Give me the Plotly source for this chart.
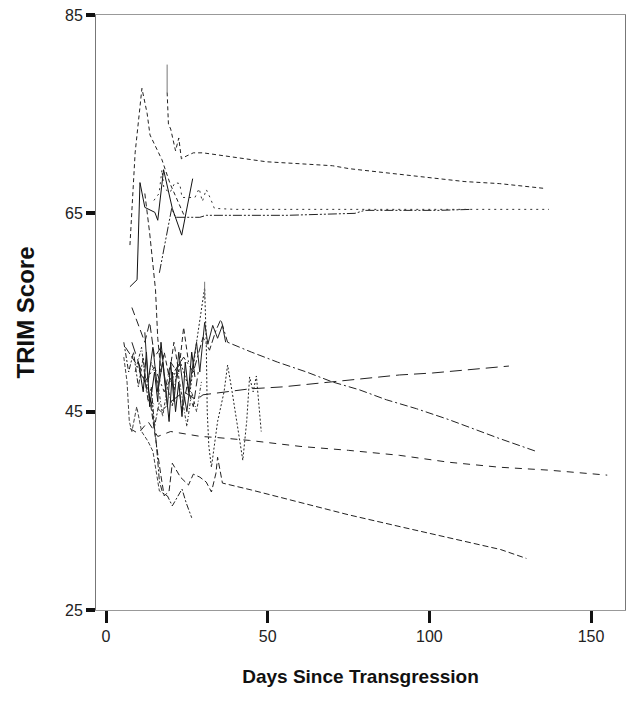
import plotly.graph_objects as go

# ---- data: one (days, TRIM score) pair of lists per participant trajectory ----
days_01 = [7.4, 9.0, 11.1, 12.7, 13.6, 15.7, 17.3, 19.8, 22.5, 24.4]
trim_01 = [61.8, 71.1, 77.6, 75.1, 72.9, 71.4, 70.4, 68.0, 66.0, 64.6]

days_02a = [18.9, 18.9]
trim_02a = [80.0, 77.2]
days_02 = [18.9, 19.3, 20.0, 21.5, 22.5, 23.3, 25.0, 27.0, 30.0, 36.7, 43.5, 49.6, 60.0, 70.0, 75.3, 83.6, 90.7, 103.0, 111.0, 121.6, 136.0]
trim_02 = [77.2, 74.0, 73.5, 71.3, 72.6, 70.5, 70.8, 71.1, 71.1, 70.8, 70.5, 70.2, 70.0, 69.8, 69.5, 69.2, 69.0, 68.5, 68.2, 68.0, 67.5]

days_03 = [16.5, 18.0, 20.3, 21.5, 29.0, 31.0, 56.0, 77.0, 80.0, 103.0, 113.0]
trim_03 = [59.0, 61.5, 65.5, 64.6, 64.6, 64.8, 64.8, 65.0, 65.3, 65.3, 65.4]

days_04 = [14.8, 16.4, 17.3, 17.9, 19.8, 21.3, 22.8, 23.5, 27.5, 28.8, 29.8, 31.0, 32.3, 33.5, 40.0, 80.0, 137.0]
trim_04 = [66.3, 67.0, 69.4, 67.5, 67.1, 68.1, 68.0, 66.6, 66.6, 67.5, 66.2, 67.4, 66.5, 65.5, 65.4, 65.4, 65.4]

days_05 = [7.4, 9.6, 10.5, 12.0, 15.1, 16.0, 17.8, 20.5, 23.4, 26.8]
trim_05 = [57.6, 58.3, 68.1, 65.6, 65.1, 64.3, 69.4, 65.5, 62.8, 68.5]

days_06 = [6.0, 9.0, 12.0, 15.0, 18.0, 21.0, 24.0, 27.0, 30.0, 32.0, 34.0, 35.5, 37.6, 45.0, 53.0, 62.0, 70.0, 78.4, 86.7, 90.7, 96.0, 106.0, 121.6, 133.0]
trim_06 = [51.5, 50.0, 48.0, 49.5, 47.0, 49.0, 50.5, 49.0, 52.5, 51.2, 53.2, 54.3, 52.0, 51.0, 50.0, 49.0, 48.0, 47.2, 46.2, 45.8, 45.3, 44.2, 42.3, 41.0]

days_07 = [8.0, 11.0, 14.0, 17.0, 20.0, 24.0, 28.0, 30.0, 38.9, 44.4, 54.6, 70.0, 80.5, 90.7, 101.0, 111.0, 124.6]
trim_07 = [52.0, 49.0, 46.0, 45.0, 46.0, 47.0, 46.2, 46.7, 47.1, 47.3, 47.5, 48.0, 48.4, 48.7, 48.9, 49.2, 49.6]

days_08 = [7.4, 10.0, 13.0, 16.0, 20.0, 24.0, 29.3, 34.0, 44.4, 60.0, 75.0, 90.7, 106.0, 121.6, 137.0, 155.0]
trim_08 = [43.3, 42.8, 44.0, 42.5, 43.0, 42.8, 42.5, 42.4, 42.1, 41.5, 41.1, 40.6, 39.9, 39.4, 39.1, 38.6]

days_09 = [13.0, 14.5, 16.0, 17.0, 18.0, 19.5, 20.5, 23.0, 25.5, 27.0, 29.0, 31.0, 32.6, 34.0, 34.5, 36.0, 45.0, 56.0, 60.0, 75.0, 91.0, 106.0, 122.0, 130.0]
trim_09 = [47.5, 44.0, 41.0, 38.5, 36.5, 37.0, 39.8, 38.4, 37.6, 38.7, 38.4, 37.9, 36.9, 38.8, 40.4, 37.8, 37.1, 36.2, 35.8, 34.6, 33.4, 32.3, 31.1, 30.2]

days_10 = [14.0, 15.5, 16.5, 17.5, 19.0, 20.5, 23.5, 24.8, 26.5]
trim_10 = [46.0, 42.0, 38.0, 36.8, 36.5, 35.5, 37.2, 35.8, 34.3]

days_11 = [20.0, 23.0, 26.0, 28.0, 30.5, 31.0, 31.3, 31.8, 32.6, 34.5, 36.5, 37.6, 39.0, 41.0, 42.3, 43.5, 44.4, 45.5, 46.5, 48.0]
trim_11 = [48.0, 50.0, 47.0, 52.0, 57.5, 52.0, 45.0, 41.5, 39.4, 44.0, 47.0, 49.7, 47.0, 43.0, 40.1, 44.0, 48.5, 47.0, 48.6, 43.0]

days_11a = [30.5, 30.5]
trim_11a = [58.1, 56.3]

days_13 = [10.0, 11.5, 12.5, 13.5, 15.0, 16.0, 17.0, 18.5, 19.5, 20.5, 21.5, 22.5, 23.5, 24.5, 25.5, 26.5, 27.5]
trim_13 = [50.0, 47.0, 51.0, 45.5, 49.0, 46.0, 52.0, 47.0, 44.0, 49.0, 45.0, 48.0, 44.5, 50.0, 47.0, 51.0, 48.5]

days_14 = [12.0, 13.0, 14.5, 16.0, 17.5, 19.0, 20.0, 21.0, 22.5, 24.0, 25.0, 26.5, 28.0, 29.0, 30.5, 31.5, 33.0, 34.5, 36.0, 37.0]
trim_14 = [53.0, 48.0, 51.5, 47.0, 50.0, 45.5, 50.0, 46.0, 51.0, 47.0, 45.0, 49.0, 52.0, 49.0, 54.0, 51.8, 53.7, 52.4, 53.7, 52.0]

days_15 = [5.5, 7.0, 8.5, 10.0, 11.5, 13.0, 14.0, 15.0, 16.5]
trim_15 = [52.0, 49.0, 51.0, 47.5, 50.5, 46.0, 47.5, 43.5, 46.0]

days_16 = [8.0, 10.5, 12.0, 13.5, 15.0, 17.0, 18.5, 20.0, 22.0, 23.5, 25.0, 27.0, 28.5]
trim_16 = [55.5, 53.4, 52.0, 54.0, 50.5, 51.5, 47.5, 50.0, 49.0, 45.0, 47.5, 45.5, 49.0]

days_17 = [12.0, 13.5, 15.3, 16.0, 17.0, 18.0, 19.5, 21.0, 22.5, 24.0, 25.5]
trim_17 = [67.0, 63.0, 57.3, 52.4, 49.0, 51.0, 48.5, 52.0, 49.0, 53.5, 50.0]

days_18 = [5.5, 6.5, 7.2, 8.0, 9.5, 11.0, 13.0, 14.5, 15.5, 16.5, 17.5]
trim_18 = [50.5, 48.0, 44.0, 43.0, 45.5, 43.0, 42.0, 41.0, 39.0, 37.0, 36.8]

days_19 = [9.0, 11.0, 12.5, 14.0, 16.0, 17.5, 19.0, 20.5, 22.0, 23.5, 25.0, 26.5, 28.0, 29.5]
trim_19 = [49.0, 51.5, 47.0, 50.0, 48.0, 44.5, 47.5, 45.5, 49.5, 46.5, 43.5, 47.0, 45.0, 48.0]

x_tick_vals = [0, 50, 100, 150]
y_tick_vals = [25, 45, 65, 85]
x_label = "Days Since Transgression"
y_label = "TRIM Score"

# ---- styles (kept separate from data) ----
series = [
    (days_01, trim_01, "#222", "4px,3px"),
    (days_02a, trim_02a, "#777", "solid"),
    (days_02, trim_02, "#222", "4px,3px"),
    (days_03, trim_03, "#222", "9px,2px,2px,2px,2px,2px"),
    (days_04, trim_04, "#333", "2px,4px"),
    (days_05, trim_05, "#111", "solid"),
    (days_06, trim_06, "#222", "8px,3px,8px,3px,2px,3px"),
    (days_07, trim_07, "#222", "12px,6px"),
    (days_08, trim_08, "#222", "7px,6px"),
    (days_09, trim_09, "#222", "6px,3px"),
    (days_10, trim_10, "#222", "6px,2px,2px,2px"),
    (days_11, trim_11, "#222", "2px,2px"),
    (days_11a, trim_11a, "#777", "solid"),
    (days_13, trim_13, "#111", "solid"),
    (days_14, trim_14, "#222", "solid"),
    (days_15, trim_15, "#222", "5px,2px,2px,2px"),
    (days_16, trim_16, "#222", "8px,4px"),
    (days_17, trim_17, "#222", "5px,3px"),
    (days_18, trim_18, "#444", "4px,2px"),
    (days_19, trim_19, "#333", "3px,2px,1px,2px"),
]

sans = "Liberation Sans, Arial, sans-serif"

fig = go.Figure()
for xs, ys, col, dash in series:
    fig.add_trace(go.Scatter(x=xs, y=ys, mode="lines",
                             line=dict(color=col, width=1, dash=dash),
                             hoverinfo="skip", showlegend=False))

fig.update_layout(
    width=626, height=704,
    margin=dict(l=96, r=1, t=15, b=94),
    plot_bgcolor="white", paper_bgcolor="white",
    font=dict(family=sans, color="#222"),
)
fig.update_xaxes(
    range=[-3.1, 160.5], tickvals=x_tick_vals, ticks="outside", ticklen=12,
    tickwidth=3, tickcolor="#111", showgrid=False, zeroline=False,
    showline=True, linecolor="#999", linewidth=1, mirror=True,
    tickfont=dict(size=16, color="#222", family=sans),
    title=dict(text=x_label, font=dict(size=19, color="#111",
               family=sans, weight="bold"), standoff=25),
)
fig.update_yaxes(
    range=[25, 85], tickvals=y_tick_vals, ticks="outside", ticklen=9,
    tickwidth=4, tickcolor="#111", showgrid=False, zeroline=False,
    showline=True, linecolor="#777", linewidth=1, mirror=True,
    tickfont=dict(size=16, color="#222", family=sans),
    title=dict(text=y_label, font=dict(size=24, color="#111",
               family=sans, weight="bold"), standoff=23),
)

fig.write_html("out.html")
